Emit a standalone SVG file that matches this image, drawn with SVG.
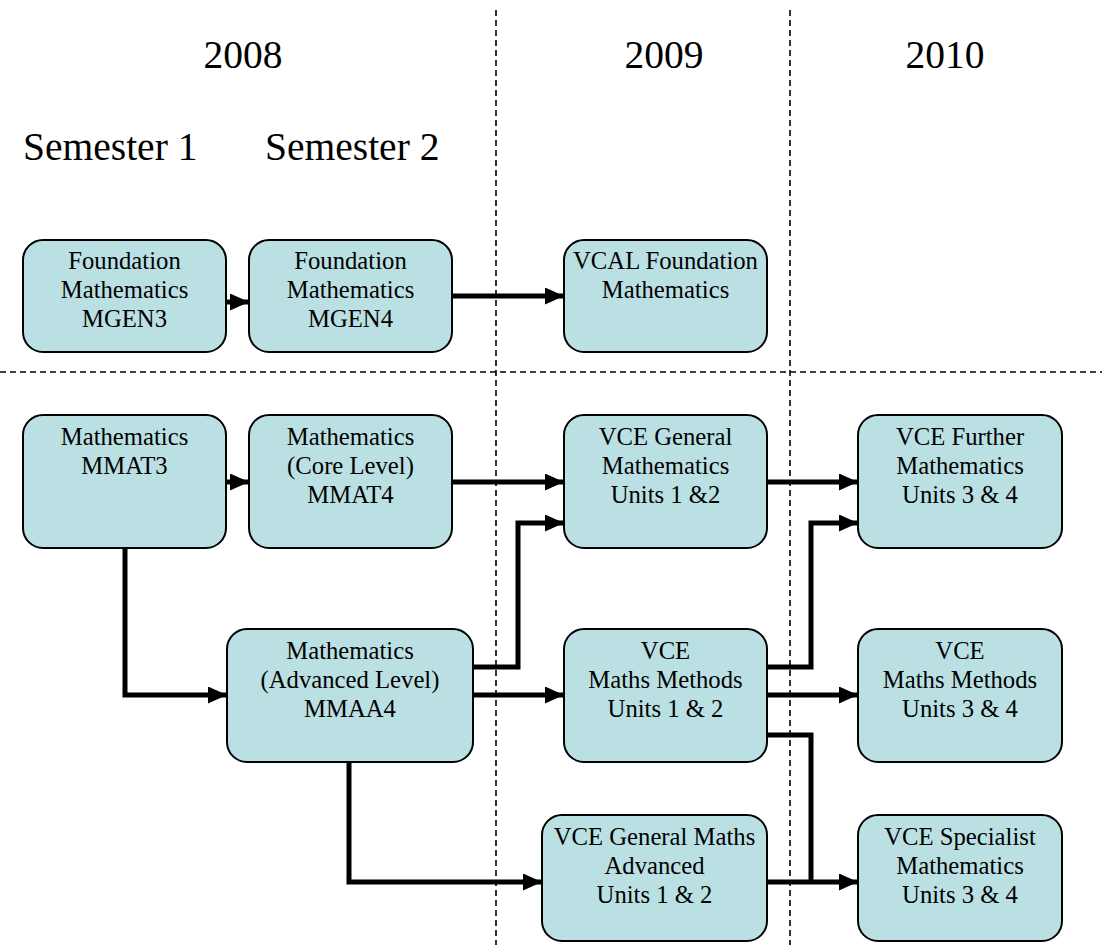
<svg xmlns="http://www.w3.org/2000/svg" width="1102" height="945" viewBox="0 0 1102 945">
<style>
.box{fill:#bbe0e3;stroke:#000;stroke-width:2}
.t{font-family:"Liberation Serif","Times New Roman",serif;font-size:24.7px;fill:#000;text-anchor:middle}
.h{font-family:"Liberation Serif","Times New Roman",serif;font-size:39.5px;fill:#000}
.dash{stroke:#000;stroke-width:1.6;stroke-dasharray:6,4;fill:none}
.c{stroke:#000;stroke-width:5;fill:none;marker-end:url(#ah)}
.cn{stroke:#000;stroke-width:5;fill:none}
</style>
<defs>
<marker id="ah" markerUnits="userSpaceOnUse" markerWidth="19" markerHeight="17" refX="19" refY="8.5" orient="auto" viewBox="0 0 19 17">
<path d="M0,0 L19,8.5 L0,17 z" fill="#000"/>
</marker>
</defs>
<rect width="1102" height="945" fill="#fff"/>
<g id="guides">
<line class="dash" x1="496" y1="10" x2="496" y2="945"/>
<line class="dash" x1="790" y1="10" x2="790" y2="945"/>
<line class="dash" x1="0" y1="372" x2="1102" y2="372"/>
</g>
<g id="headers">
<text class="h" x="243" y="68" text-anchor="middle">2008</text>
<text class="h" x="664" y="68" text-anchor="middle">2009</text>
<text class="h" x="945" y="68" text-anchor="middle">2010</text>
<text class="h" x="23" y="160">Semester 1</text>
<text class="h" x="265" y="160">Semester 2</text>
</g>
<g id="connectors">
<line class="c" x1="226" y1="302" x2="249" y2="302"/>
<line class="c" x1="452" y1="296" x2="564" y2="296"/>
<line class="c" x1="226" y1="482" x2="249" y2="482"/>
<line class="c" x1="452" y1="482" x2="564" y2="482"/>
<polyline class="c" points="125,548 125,695 227,695"/>
<polyline class="c" points="473,667 518,667 518,523 564,523"/>
<line class="c" x1="473" y1="695" x2="564" y2="695"/>
<polyline class="c" points="349,762 349,882 542,882"/>
<line class="c" x1="767" y1="482" x2="858" y2="482"/>
<polyline class="c" points="767,667 811,667 811,523 858,523"/>
<line class="c" x1="767" y1="695" x2="858" y2="695"/>
<polyline class="cn" points="767,735 811,735 811,882"/>
<line class="c" x1="767" y1="882" x2="858" y2="882"/>
</g>
<g id="n-mgen3">
<rect class="box" x="23" y="240" width="203" height="112" rx="20"/>
<text class="t" x="124.5" y="269">Foundation</text>
<text class="t" x="124.5" y="298">Mathematics</text>
<text class="t" x="124.5" y="327">MGEN3</text>
</g>
<g id="n-mgen4">
<rect class="box" x="249" y="240" width="203" height="112" rx="20"/>
<text class="t" x="350.5" y="269">Foundation</text>
<text class="t" x="350.5" y="298">Mathematics</text>
<text class="t" x="350.5" y="327">MGEN4</text>
</g>
<g id="n-vcal">
<rect class="box" x="564" y="240" width="203" height="112" rx="20"/>
<text class="t" x="665.5" y="269">VCAL Foundation</text>
<text class="t" x="665.5" y="298">Mathematics</text>
</g>
<g id="n-mmat3">
<rect class="box" x="23" y="415" width="203" height="133" rx="20"/>
<text class="t" x="124.5" y="445">Mathematics</text>
<text class="t" x="124.5" y="474">MMAT3</text>
</g>
<g id="n-mmat4">
<rect class="box" x="249" y="415" width="203" height="133" rx="20"/>
<text class="t" x="350.5" y="445">Mathematics</text>
<text class="t" x="350.5" y="474">(Core Level)</text>
<text class="t" x="350.5" y="503">MMAT4</text>
</g>
<g id="n-gen12">
<rect class="box" x="564" y="415" width="203" height="133" rx="20"/>
<text class="t" x="665.5" y="445">VCE General</text>
<text class="t" x="665.5" y="474">Mathematics</text>
<text class="t" x="665.5" y="503">Units 1 &amp;2</text>
</g>
<g id="n-further">
<rect class="box" x="858" y="415" width="204" height="133" rx="20"/>
<text class="t" x="960" y="445">VCE Further</text>
<text class="t" x="960" y="474">Mathematics</text>
<text class="t" x="960" y="503">Units 3 &amp; 4</text>
</g>
<g id="n-mmaa4">
<rect class="box" x="227" y="629" width="246" height="133" rx="20"/>
<text class="t" x="350" y="659">Mathematics</text>
<text class="t" x="350" y="688">(Advanced Level)</text>
<text class="t" x="350" y="717">MMAA4</text>
</g>
<g id="n-mm12">
<rect class="box" x="564" y="629" width="203" height="133" rx="20"/>
<text class="t" x="665.5" y="659">VCE</text>
<text class="t" x="665.5" y="688">Maths Methods</text>
<text class="t" x="665.5" y="717">Units 1 &amp; 2</text>
</g>
<g id="n-mm34">
<rect class="box" x="858" y="629" width="204" height="133" rx="20"/>
<text class="t" x="960" y="659">VCE</text>
<text class="t" x="960" y="688">Maths Methods</text>
<text class="t" x="960" y="717">Units 3 &amp; 4</text>
</g>
<g id="n-gma">
<rect class="box" x="542" y="815" width="225" height="126" rx="20"/>
<text class="t" x="654.5" y="845">VCE General Maths</text>
<text class="t" x="654.5" y="874">Advanced</text>
<text class="t" x="654.5" y="903">Units 1 &amp; 2</text>
</g>
<g id="n-spec">
<rect class="box" x="858" y="815" width="204" height="126" rx="20"/>
<text class="t" x="960" y="845">VCE Specialist</text>
<text class="t" x="960" y="874">Mathematics</text>
<text class="t" x="960" y="903">Units 3 &amp; 4</text>
</g>
</svg>
